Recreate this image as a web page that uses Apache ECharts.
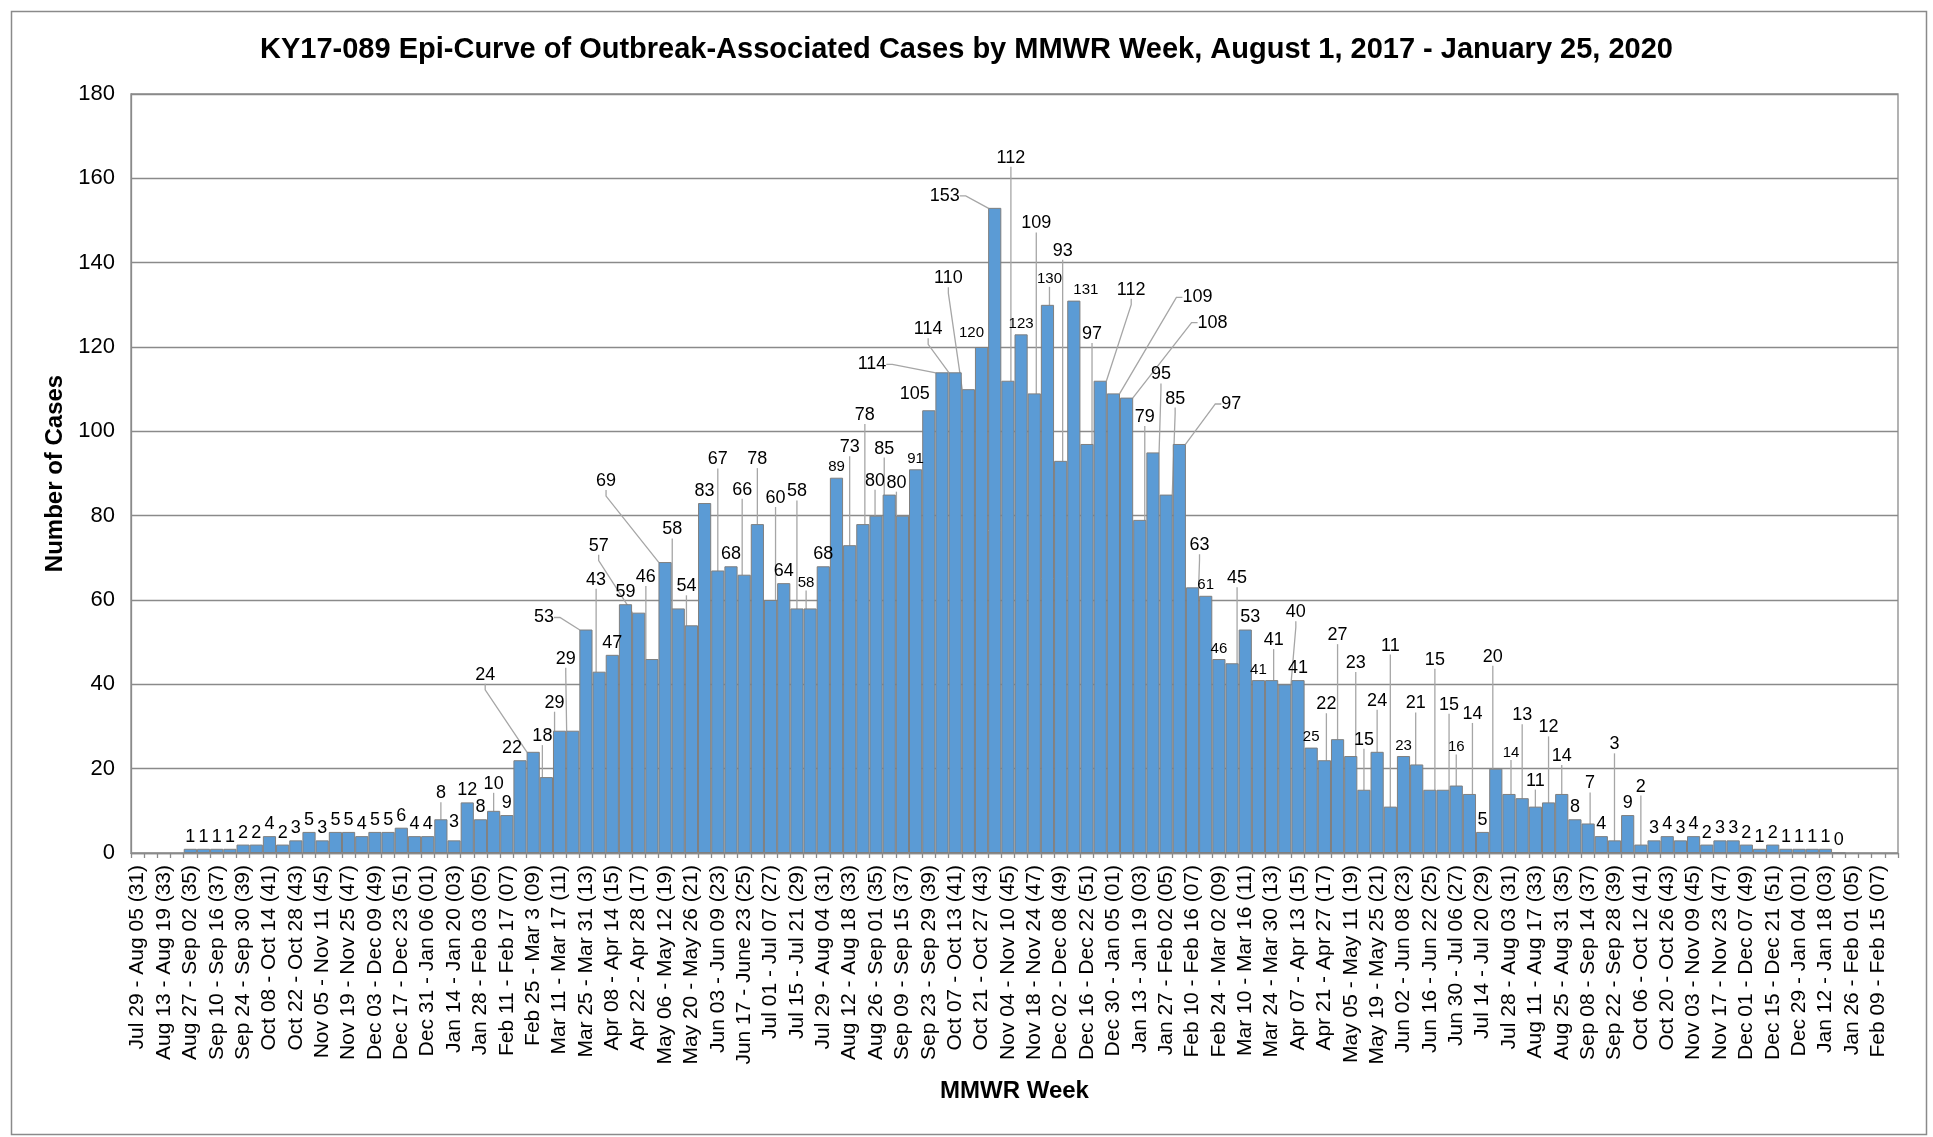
<!DOCTYPE html>
<html>
<head>
<meta charset="utf-8">
<script src="https://cdn.jsdelivr.net/npm/echarts@6/dist/echarts.min.js"></script>
<style>
html,body{margin:0;padding:0;background:#ffffff;}
#chart{width:1933px;height:1137px;}
</style>
</head>
<body>
<div id="chart"></div>
<script>
// ---- Tick labels (only the odd MMWR weeks are labelled on the axis) ----
const weekLabels2017 = ["Jul 29 - Aug 05 (31)","Aug 13 - Aug 19 (33)","Aug 27 - Sep 02 (35)","Sep 10 - Sep 16 (37)","Sep 24 - Sep 30 (39)","Oct 08 - Oct 14 (41)","Oct 22 - Oct 28 (43)","Nov 05 - Nov 11 (45)","Nov 19 - Nov 25 (47)","Dec 03 - Dec 09 (49)","Dec 17 - Dec 23 (51)"];
const weekLabels2018 = ["Dec 31 - Jan 06 (01)","Jan 14 - Jan 20 (03)","Jan 28 - Feb 03 (05)","Feb 11 - Feb 17 (07)","Feb 25 - Mar 3 (09)","Mar 11 - Mar 17 (11)","Mar 25 - Mar 31 (13)","Apr 08 - Apr 14 (15)","Apr 22 - Apr 28 (17)","May 06 - May 12 (19)","May 20 - May 26 (21)","Jun 03 - Jun 09 (23)","Jun 17 - June 23 (25)","Jul 01 - Jul 07 (27)","Jul 15 - Jul 21 (29)","Jul 29 - Aug 04 (31)","Aug 12 - Aug 18 (33)","Aug 26 - Sep 01 (35)","Sep 09 - Sep 15 (37)","Sep 23 - Sep 29 (39)","Oct 07 - Oct 13 (41)","Oct 21 - Oct 27 (43)","Nov 04 - Nov 10 (45)","Nov 18 - Nov 24 (47)","Dec 02 - Dec 08 (49)","Dec 16 - Dec 22 (51)"];
const weekLabels2019 = ["Dec 30 - Jan 05 (01)","Jan 13 - Jan 19 (03)","Jan 27 - Feb 02 (05)","Feb 10 - Feb 16 (07)","Feb 24 - Mar 02 (09)","Mar 10 - Mar 16 (11)","Mar 24 - Mar 30 (13)","Apr 07 - Apr 13 (15)","Apr 21 - Apr 27 (17)","May 05 - May 11 (19)","May 19 - May 25 (21)","Jun 02 - Jun 08 (23)","Jun 16 - Jun 22 (25)","Jun 30 - Jul 06 (27)","Jul 14 - Jul 20 (29)","Jul 28 - Aug 03 (31)","Aug 11 - Aug 17 (33)","Aug 25 - Aug 31 (35)","Sep 08 - Sep 14 (37)","Sep 22 - Sep 28 (39)","Oct 06 - Oct 12 (41)","Oct 20 - Oct 26 (43)","Nov 03 - Nov 09 (45)","Nov 17 - Nov 23 (47)","Dec 01 - Dec 07 (49)","Dec 15 - Dec 21 (51)"];
const weekLabels2020 = ["Dec 29 - Jan 04 (01)","Jan 12 - Jan 18 (03)","Jan 26 - Feb 01 (05)","Feb 09 - Feb 15 (07)"];

// ---- Weekly case counts (one value per MMWR week; null = no entry) ----
const cases2017 = [null,null,null,null,1,1,1,1,2,2,4,2,3,5,3,5,5,4,5,5,6,4];            // wk31-52
const cases2018 = [4,8,3,12,8,10,9,22,24,18, 29,29,53,43,47,59,57,46,69,58,
                   54,83,67,68,66,78,60,64,58,58, 68,89,73,78,80,85,80,91,105,114,
                   114,110,120,153,112,123,109,130,93,131, 97,112];                      // wk01-52
const cases2019 = [109,108,79,95,85,97,63,61,46,45, 53,41,41,40,41,25,22,27,23,15,
                   24,11,23,21,15,15,16,14,5,20, 14,13,11,12,14,8,7,4,3,9,
                   2,3,4,3,4,2,3,3,2,1, 2,1];                                          // wk01-52
const cases2020 = [1,1,1,0,null,null,null,null];                                      // wk01-08

const yMin = 0, yMax = 180, yInterval = 20;

// ---- Label placement (pixel shifts of data labels, as in the original) ----
const labelShift = {
  23:[0,-14],24:[0,-6],27:[0,-15],29:[-8,0],30:[-48,-65],31:[-4,-29],32:[-5,-16],33:[-7,-60],
  34:[-42,0],35:[-3,-80],38:[-40,-55],39:[-6,-70],40:[-59,-69],41:[-6,-67],42:[-5,-27],
  44:[0,-99],46:[-2,-73],47:[0,-53],48:[5,-90],50:[0,-105],51:[-4,-15],54:[0,-86],55:[2,-97],
  56:[-1,-23],57:[-5,-34],58:[-6,-21],60:[-14,-4],61:[-70,4],62:[-27,-31],63:[-20,-99],
  64:[-10,-4],65:[-50,0],66:[3,-211],68:[2,-158],69:[2,-15],70:[2,-198],71:[12,0],72:[5,-98],
  73:[31,-79],74:[84,-84],75:[86,-63],76:[5,-91],77:[8,-66],78:[9,-84],79:[52,-28],80:[7,-30],
  83:[5,-73],84:[5,0],86:[2,-28],87:[11,-60],90:[2,-44],91:[0,-92],92:[5,-81],93:[0,-38],
  94:[0,-39],95:[0,-149],97:[-1,-49],98:[5,-118],99:[6,-73],100:[0,-28],101:[3,-68],
  103:[-3,-100],104:[2,-31],105:[0,-71],106:[0,-14],107:[0,-63],108:[0,-26],110:[2,-28],
  112:[0,-84],114:[0,-46]
};
const noLeader = [24,29,60,64,71,84];
const smallLabels = [51,53,59,64,67,69,71,81,82,85,89,96,100,104];

// ---- Build ----
function interleave(labels){ const out=[]; labels.forEach(l=>{out.push(l); out.push('');}); return out; }
const categories = [].concat(interleave(weekLabels2017), interleave(weekLabels2018), interleave(weekLabels2019), interleave(weekLabels2020));
const values = [].concat(cases2017, cases2018, cases2019, cases2020);

const seriesData = values.map((v, i) => {
  if (v === null) return '-';
  const item = { value: v };
  if (smallLabels.indexOf(i) >= 0) item.label = { fontSize: 15 };
  if (labelShift[i] && noLeader.indexOf(i) < 0) item.labelLine = { show: true };
  return item;
});

const FONT = '"Liberation Sans", Arial, sans-serif';
const GREY = '#8a8a8a';

const chart = echarts.init(document.getElementById('chart'), null, { renderer: 'canvas' });
chart.setOption({
  animation: false,
  backgroundColor: '#ffffff',
  textStyle: { fontFamily: FONT },
  title: {
    text: 'KY17-089 Epi-Curve of Outbreak-Associated Cases by MMWR Week, August 1, 2017 - January 25, 2020',
    left: 'center', top: 30,
    textStyle: { fontFamily: FONT, fontSize: 29, fontWeight: 'bold', color: '#000' }
  },
  graphic: [{
    type: 'rect', left: 9, top: 9, silent: true,
    shape: { width: 1915, height: 1123 },
    style: { fill: 'none', stroke: GREY, lineWidth: 1.5 }
  }],
  grid: { left: 131, right: 35, top: 94, bottom: 284, show: true, borderColor: GREY, borderWidth: 1.3, backgroundColor: 'transparent' },
  xAxis: {
    type: 'category', data: categories, boundaryGap: true,
    name: 'MMWR Week', nameLocation: 'middle', nameGap: 226,
    nameTextStyle: { fontFamily: FONT, fontSize: 24, fontWeight: 'bold', color: '#000' },
    axisLine: { lineStyle: { color: GREY, width: 1.3 } },
    axisTick: { show: true, interval: 0, length: 5, lineStyle: { color: GREY, width: 1.3 } },
    axisLabel: { interval: 0, rotate: 90, fontSize: 21, color: '#000', margin: 12, fontFamily: FONT }
  },
  yAxis: {
    type: 'value', min: yMin, max: yMax, interval: yInterval,
    name: 'Number of Cases', nameLocation: 'middle', nameGap: 64,
    nameTextStyle: { fontFamily: FONT, fontSize: 24, fontWeight: 'bold', color: '#000' },
    axisLine: { show: true, lineStyle: { color: GREY, width: 1.3 } },
    axisTick: { show: false },
    axisLabel: { fontSize: 22, color: '#000', margin: 16, fontFamily: FONT },
    splitLine: { show: true, lineStyle: { color: GREY, width: 1.3 } }
  },
  series: [{
    type: 'bar',
    data: seriesData,
    barCategoryGap: '0%',
    itemStyle: { color: '#5B9BD5', borderColor: '#7f7f7f', borderWidth: 1 },
    label: { show: true, position: 'top', distance: 3, fontSize: 18, color: '#000', fontFamily: FONT },
    labelLine: { show: false, length2: 6, lineStyle: { color: '#a6a6a6', width: 1.3 } },
    labelLayout: function (p) {
      const s = labelShift[p.dataIndex];
      return s ? { dx: s[0], dy: s[1] } : {};
    }
  }]
});
</script>
</body>
</html>
